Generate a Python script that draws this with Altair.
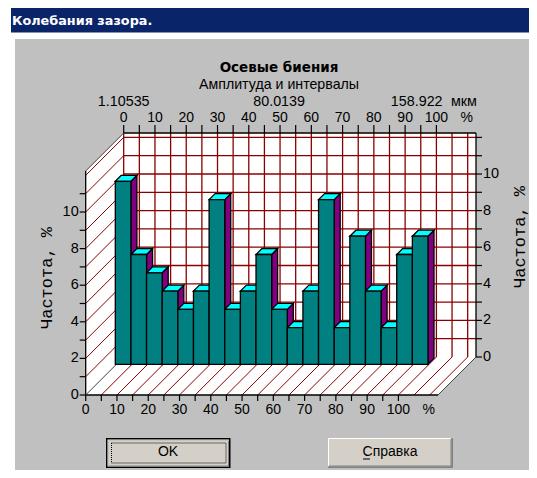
import altair as alt
import pandas as pd

# ---- values ----
bar_starts = [0, 5, 10, 15, 20, 25, 30, 35, 40, 45, 50, 55, 60, 65, 70, 75, 80, 85, 90, 95]
bar_values = [10, 6, 5, 4, 3, 4, 9, 3, 4, 6, 3, 2, 4, 9, 2, 7, 4, 2, 6, 7]
percent_ticks = list(range(0, 115, 5))
percent_labels = list(range(0, 110, 10))
freq_ticks = list(range(0, 13))
freq_labels_left = [0, 2, 4, 6, 8, 10]
freq_labels_right = [0, 2, 4, 6, 8, 10]
amplitude_labels = ["1.10535", "80.0139", "158.922", "мкм"]
amplitude_at = [0, 49.7, 93.7, 108.8]

# ---- chart frame: page pixels <-> data units ----
W, H = 521, 462
PX_PER_PCT, PX_PER_FREQ = 3.127, 18.3
ORIGIN_X, ORIGIN_Y = 85.7, 395.0      # page position of percent 0 / frequency 0


def ux(px):
    return (px - ORIGIN_X) / PX_PER_PCT


def uy(py):
    return (ORIGIN_Y - py) / PX_PER_FREQ


XS = alt.Scale(domain=[ux(8), ux(8 + W)], nice=False, zero=False)
YS = alt.Scale(domain=[uy(8 + H), uy(8)], nice=False, zero=False)
X = alt.X("x:Q", scale=XS, axis=None)
Y = alt.Y("y:Q", scale=YS, axis=None, stack=None)
X2 = alt.X2("x2:Q")
Y2 = alt.Y2("y2:Q")

DX, DY = 38 / PX_PER_PCT, 38 / PX_PER_FREQ    # depth of the box
BAR_DX, BAR_DY = 29.6 / PX_PER_PCT, 30.7 / PX_PER_FREQ  # front plane of bars
BD_X, BD_Y = 6 / PX_PER_PCT, 6 / PX_PER_FREQ  # thickness of bars
BAR_W = 5
X_END = ux(476)
Y_TOP = uy(133)

GRID = "#8B0000"
FRAME = "#000000"
PANEL = "#C0C0C0"
BTN = "#D4D0C8"
TEAL = "#008080"
PURPLE = "#800080"
CYAN = "#00FFFF"


def rects(rows, **kw):
    df = pd.DataFrame(rows, columns=["x", "x2", "y", "y2"])
    return alt.Chart(df).mark_rect(**kw).encode(x=X, x2=X2, y=Y, y2=Y2)


def px_rect(l, r, t, b, **kw):
    return rects([(ux(l), ux(r), uy(t), uy(b))], **kw)


def rules(rows, **kw):
    df = pd.DataFrame(rows, columns=["x", "x2", "y", "y2"])
    return alt.Chart(df).mark_rule(**kw).encode(x=X, x2=X2, y=Y, y2=Y2)


def texts(rows, **kw):
    df = pd.DataFrame(rows, columns=["x", "y", "t"])
    kw.setdefault("font", "Liberation Sans")
    kw.setdefault("fontSize", 14)
    kw.setdefault("color", "#000000")
    kw.setdefault("baseline", "middle")
    return alt.Chart(df).mark_text(**kw).encode(x=X, y=Y, text="t:N")


def areas_vertical(rows, **kw):
    df = pd.DataFrame(rows, columns=["k", "x", "y", "y2"])
    return alt.Chart(df).mark_area(**kw).encode(x=X, y=Y, y2=Y2, detail="k:N")


def areas_horizontal(rows, **kw):
    df = pd.DataFrame(rows, columns=["k", "y", "x", "x2"])
    return alt.Chart(df).mark_area(orient="horizontal", **kw).encode(
        y=Y, x=X, x2=X2, detail="k:N"
    )


layers = []
# window furniture
layers.append(px_rect(15, 8 + W, 39, 8 + H, color=PANEL))
layers.append(px_rect(11, 8 + W, 8, 32.5, color="#0A246A"))
layers.append(texts([(ux(12), uy(21), "Колебания зазора.")], font="DejaVu Sans",
                    fontWeight="bold", fontSize=12.8, color="#FFFFFF", align="left"))

# box walls
layers.append(rects([(DX, X_END, DY, Y_TOP)], color="#FFFFFF"))
layers.append(areas_vertical([(0, 0, Y_TOP - DY, 0), (0, DX, Y_TOP, DY)], color="#FFFFFF"))
layers.append(areas_horizontal([(0, 0, 0, X_END - DX), (0, DY, DX, X_END)], color="#FFFFFF"))

# grid on back wall
grid_rows = [(DX + p, DX + p, DY, Y_TOP) for p in percent_ticks[:-1] + [110]]
grid_rows += [(DX, X_END, DY + v, DY + v) for v in freq_ticks[1:]]
layers.append(rules(grid_rows, color=GRID, strokeWidth=1.3))
# grid on floor and left wall
floor_rows = [(p, p + DX, 0, DY) for p in percent_ticks[1:]]
wall_rows = [(0, DX, v, v + DY) for v in freq_ticks[1:]]
layers.append(rules(floor_rows + wall_rows, color=GRID, strokeWidth=1))

# box edges
layers.append(rules([(DX, X_END, Y_TOP, Y_TOP),
                     (X_END, X_END, DY, Y_TOP),
                     (0, X_END - DX, 0, 0),
                     (0, 0, 0, Y_TOP - DY)], color=FRAME, strokeWidth=1.3))
layers.append(rules([(0, DX, 0, DY),
                     (0, DX, Y_TOP - DY, Y_TOP),
                     (X_END - DX, X_END, 0, DY)], color="#444444", strokeWidth=1))

# ticks
tick_px_x, tick_px_y = 6 / PX_PER_PCT, 8 / PX_PER_FREQ
tick_rows = [(DX + p, DX + p, Y_TOP, Y_TOP + tick_px_y) for p in percent_ticks[:-2]]
tick_rows += [(p, p, 0, -6 / PX_PER_FREQ) for p in percent_ticks[:-2]]
tick_rows += [(-tick_px_x, 0, v, v) for v in freq_ticks[:-1]]
tick_rows += [(X_END, X_END + tick_px_x, DY + v, DY + v) for v in freq_ticks]
layers.append(rules(tick_rows, color=FRAME, strokeWidth=1.2))

# bars: side faces, top faces, front faces
side_rows, top_rows, front_rows = [], [], []
for i, (s, v) in enumerate(zip(bar_starts, bar_values)):
    l = s + BAR_DX
    r = l + BAR_W
    side_rows += [(i, r, BAR_DY + v, BAR_DY), (i, r + BD_X, BAR_DY + v + BD_Y, BAR_DY + BD_Y)]
    top_rows += [(i, BAR_DY + v, l, r), (i, BAR_DY + v + BD_Y, l + BD_X, r + BD_X)]
    front_rows.append((l, r, BAR_DY, BAR_DY + v))
layers.append(areas_vertical(side_rows, color=PURPLE, stroke="#000000", strokeWidth=1.3, interpolate="linear"))
layers.append(areas_horizontal(top_rows, color=CYAN, stroke="#000000", strokeWidth=1.3, interpolate="linear"))
layers.append(rects(front_rows, color=TEAL, stroke="#000000", strokeWidth=1.3))

# labels
layers.append(texts([(ux(279), uy(68), "Осевые биения")], font="DejaVu Sans", fontWeight="bold",
                    fontSize=13.5, align="center"))
layers.append(texts([(ux(279), uy(85), "Амплитуда и интервалы")], align="center", fontSize=14.2))
layers.append(texts([(DX + p, uy(102), t) for p, t in zip(amplitude_at, amplitude_labels)],
                    align="center", fontSize=14.3))
layers.append(texts([(DX + p, uy(118), str(p)) for p in percent_labels] + [(DX + 109.7, uy(118), "%")],
                    align="center", fontSize=14))
layers.append(texts([(p, uy(410), str(p)) for p in percent_labels] + [(109.7, uy(410), "%")],
                    align="center", fontSize=14))
layers.append(texts([(-tick_px_x - 0.3, v, str(v)) for v in freq_labels_left], align="right", fontSize=14.5))
layers.append(texts([(X_END + tick_px_x + 0.3, DY + v, str(v)) for v in freq_labels_right], align="left", fontSize=14.5))
layers.append(texts([(ux(47), uy(278), "Частота, %")], font="Liberation Mono", fontSize=17,
                    angle=270, align="center"))
layers.append(texts([(ux(520), uy(237), "Частота, %")], font="Liberation Mono", fontSize=17,
                    angle=270, align="center"))

# buttons
layers.append(px_rect(106, 230.5, 438, 468, color="#000000"))
layers.append(px_rect(107.5, 229, 439.5, 466.5, color="#FFFFFF"))
layers.append(px_rect(108.5, 229, 440.5, 466.5, color="#808080"))
layers.append(px_rect(108.5, 228, 440.5, 465.5, color=BTN))
layers.append(px_rect(111.5, 226, 443, 463, color=BTN, stroke="#000000", strokeWidth=1, strokeDash=[1, 1]))
layers.append(texts([(ux(168), uy(452), "OK")], align="center", fontSize=14))
layers.append(px_rect(328, 452.5, 438, 467.5, color="#404040"))
layers.append(px_rect(328, 451.5, 438, 466.5, color="#FFFFFF"))
layers.append(px_rect(329, 451.5, 439, 466.5, color="#808080"))
layers.append(px_rect(329, 450.5, 439, 465.5, color=BTN))
layers.append(texts([(ux(390), uy(452), "Справка")], align="center", fontSize=14))
layers.append(rules([(ux(363), ux(370), uy(459), uy(459))], color="#000000", strokeWidth=1))

chart = alt.layer(*layers).properties(
    width=W, height=H, padding=0, background="#FFFFFF",
    autosize=alt.AutoSizeParams(type="none", contains="content"),
).configure_view(stroke=None)

chart.save("out.html", embed_options={"renderer": "svg", "actions": False})
